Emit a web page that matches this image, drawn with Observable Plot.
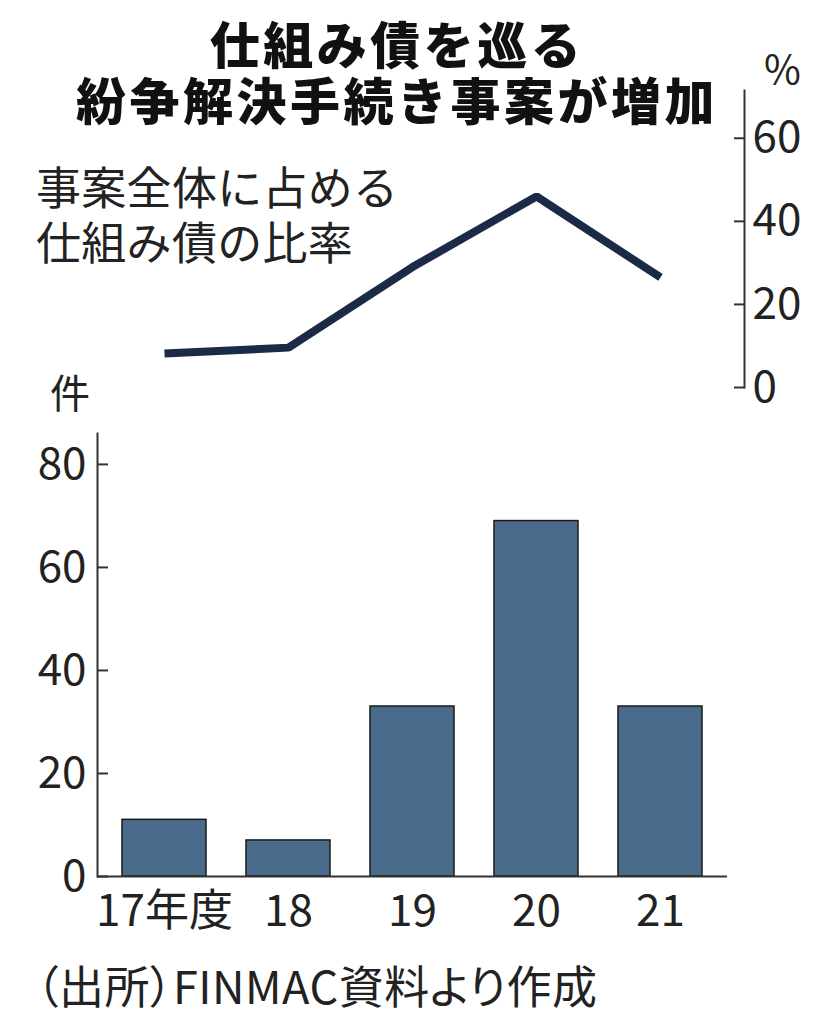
<!DOCTYPE html>
<html><head><meta charset="utf-8">
<script src="https://cdn.jsdelivr.net/npm/d3@7"></script>
<script src="https://cdn.jsdelivr.net/npm/@observablehq/plot@0.6"></script>
<style>
body{margin:0;background:#fff;}
#wrap{position:relative;width:820px;height:1024px;overflow:hidden;font-family:"Noto Sans CJK JP",sans-serif;color:#222;}
.abs{position:absolute;white-space:nowrap;overflow:visible;}
#top,#bottom{position:absolute;left:0;}
#top{top:0;}
#bottom{top:400px;}
.title{left:2px;width:790px;text-align:center;font-family:"Liberation Sans","Noto Sans CJK JP",sans-serif;font-size:50px;line-height:56px;height:56px;font-weight:900;color:#111;letter-spacing:3.5px;}
#t1{top:19px;}
#t2{top:75px;}
.note{left:36px;font-family:"Liberation Sans","Noto Sans CJK JP",sans-serif;font-size:45px;line-height:55px;height:55px;color:#222;letter-spacing:0.3px;}
#n1{top:162px;}
#n2{top:217px;}
#pct{left:764px;top:44px;font-size:40px;line-height:46px;}
#ken{left:50px;top:368px;font-size:40px;line-height:46px;}
#caption{left:36px;top:960px;font-size:45px;line-height:50px;font-feature-settings:"palt";letter-spacing:0.5px;}
</style>
</head><body>
<div id="wrap">
  <div id="top"></div>
  <div id="bottom"></div>
  <div class="abs title" id="t1"></div>
  <div class="abs title" id="t2"></div>
  <div class="abs note" id="n1"></div>
  <div class="abs note" id="n2"></div>
  <div class="abs" id="pct">%</div>
  <div class="abs" id="ken">件</div>
  <div class="abs" id="caption">（出所）FINMAC資料より作成</div>
</div>
<script>
const years = ["17年度", "18", "19", "20", "21"];
const cases = [11, 7, 33, 69, 33];
const ratio = [8.2, 9.6, 29, 46, 26.5];
const ratioTicks = [0, 20, 40, 60];
const caseTicks = [0, 20, 40, 60, 80];
const titleLines = ["仕組み債を巡る", "紛争解決手続き事案が増加"];
const noteLines = ["事案全体に占める", "仕組み債の比率"];

document.getElementById("t1").textContent = titleLines[0];
document.getElementById("t2").textContent = titleLines[1];
document.getElementById("n1").textContent = noteLines[0];
document.getElementById("n2").textContent = noteLines[1];

const caseData = years.map((y, i) => ({year: y, value: cases[i]}));
const ratioData = years.map((y, i) => ({year: y, value: ratio[i]}));

const fontStyle = {fontFamily: '"Noto Sans CJK JP", sans-serif', fontSize: "44px", color: "#222", background: "transparent", overflow: "visible"};

const topPlot = Plot.plot({
  width: 820,
  height: 400,
  marginTop: 90,
  marginBottom: 13,
  marginLeft: 97,
  marginRight: 76,
  style: fontStyle,
  x: {type: "point", domain: years, range: [164, 660], padding: 0, axis: null},
  y: {domain: [0, 71.5], axis: null},
  marks: [
    Plot.frame({anchor: "right", stroke: "#333", strokeWidth: 2}),
    Plot.axisY(ratioTicks, {anchor: "right", tickSize: -11, tickPadding: 19, stroke: "#333", strokeWidth: 2, label: null, fill: "#222"}),
    Plot.line(ratioData, {x: "year", y: "value", stroke: "#1b2a47", strokeWidth: 8, strokeLinejoin: "miter", strokeLinecap: "butt"})
  ]
});
document.getElementById("top").appendChild(topPlot);

const bottomPlot = Plot.plot({
  width: 820,
  height: 540,
  marginTop: 33,
  marginBottom: 64,
  marginLeft: 97,
  marginRight: 93,
  style: fontStyle,
  x: {type: "band", domain: years, paddingInner: 0.32, paddingOuter: 0.2, axis: null},
  y: {domain: [0, 86], axis: null},
  marks: [
    Plot.barY(caseData, {x: "year", y: "value", fill: "#4b6b8d", stroke: "#1a1a1a", strokeWidth: 1.5}),
    Plot.frame({anchor: "left", stroke: "#333", strokeWidth: 2}),
    Plot.ruleY([0], {stroke: "#333", strokeWidth: 2}),
    Plot.axisY(caseTicks, {anchor: "left", tickSize: -11, tickPadding: 22, stroke: "#333", strokeWidth: 2, label: null, fill: "#222"}),
    Plot.axisX(years, {anchor: "bottom", tickSize: 0, tickPadding: 18, label: null, fill: "#222"})
  ]
});
document.getElementById("bottom").appendChild(bottomPlot);
</script>
</body></html>
